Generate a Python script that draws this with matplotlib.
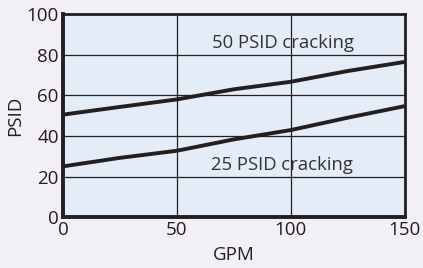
import matplotlib.pyplot as plt

gpm = [0, 25, 50, 75, 100, 125, 150]
psid_50 = [50.5, 54.3, 58.0, 63.0, 66.7, 72.0, 76.5]
psid_25 = [25.0, 29.2, 32.7, 38.3, 42.9, 49.0, 54.7]
x_ticks = [0, 50, 100, 150]
y_ticks = [0, 20, 40, 60, 80, 100]
labels = ["50 PSID cracking", "25 PSID cracking"]

plt.rcParams['font.family'] = ['Open Sans', 'DejaVu Sans']
dark = '#231f20'

fig = plt.figure(figsize=(4.23, 2.68), dpi=100)
fig.patch.set_facecolor('#f3eff6')
ax = fig.add_axes([0.149, 0.19, 0.808, 0.757])
ax.set_facecolor('#e4ecf7')

ax.plot(gpm, psid_50, color=dark, lw=2.8, solid_capstyle='butt', zorder=3)
ax.plot(gpm, psid_25, color=dark, lw=2.8, solid_capstyle='butt', zorder=3)

ax.set_xlim(0, 150)
ax.set_ylim(0, 100)
ax.set_xticks(x_ticks)
ax.set_yticks(y_ticks)
ax.grid(True, color=dark, lw=0.9)
ax.tick_params(labelsize=13.5, colors=dark, length=0, pad=3)

for side in ['left', 'bottom']:
    ax.spines[side].set_linewidth(2.8)
    ax.spines[side].set_color(dark)
for side in ['top', 'right']:
    ax.spines[side].set_linewidth(2.0)
    ax.spines[side].set_color(dark)

# annotations inside the plot, grey and a bit lighter
ax.text(65.5, 83.2, labels[0], fontsize=13.3, color='#333333', zorder=4)
ax.text(65.0, 23.2, labels[1], fontsize=13.3, color='#333333', zorder=4)

ax.set_xlabel('GPM', fontsize=13.5, color=dark, labelpad=5)
ax.set_ylabel('PSID', fontsize=13.5, color=dark, labelpad=2)

fig.savefig('out.png', dpi=100, facecolor=fig.get_facecolor())
